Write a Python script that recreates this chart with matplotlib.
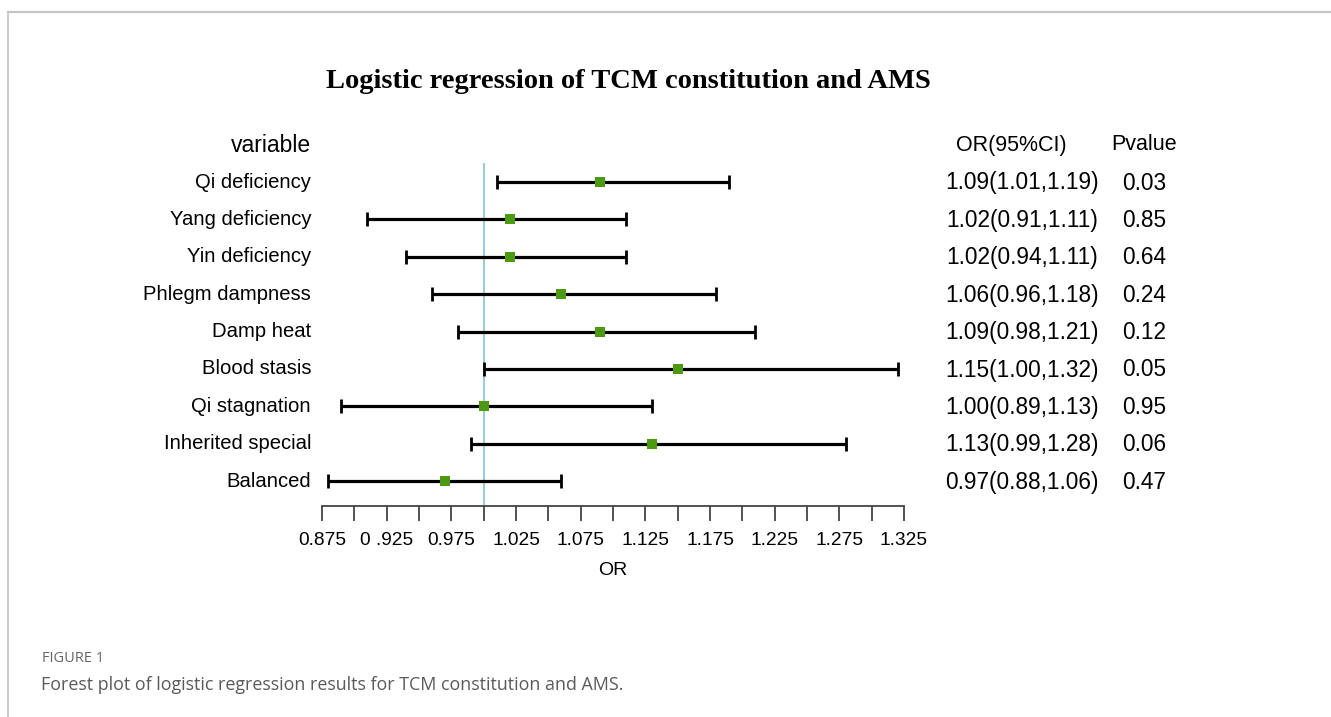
import matplotlib
matplotlib.use("Agg")
import matplotlib.pyplot as plt
from matplotlib.lines import Line2D

variables = ["Qi deficiency", "Yang deficiency", "Yin deficiency", "Phlegm dampness",
             "Damp heat", "Blood stasis", "Qi stagnation", "Inherited special", "Balanced"]
or_vals = [1.09, 1.02, 1.02, 1.06, 1.09, 1.15, 1.00, 1.13, 0.97]
ci_low = [1.01, 0.91, 0.94, 0.96, 0.98, 1.00, 0.89, 0.99, 0.88]
ci_high = [1.19, 1.11, 1.11, 1.18, 1.21, 1.32, 1.13, 1.28, 1.06]
or_text = ["1.09(1.01,1.19)", "1.02(0.91,1.11)", "1.02(0.94,1.11)", "1.06(0.96,1.18)",
           "1.09(0.98,1.21)", "1.15(1.00,1.32)", "1.00(0.89,1.13)", "1.13(0.99,1.28)",
           "0.97(0.88,1.06)"]
p_text = ["0.03", "0.85", "0.64", "0.24", "0.12", "0.05", "0.95", "0.06", "0.47"]
tick_vals = [0.875 + 0.025 * i for i in range(19)]
tick_labels = ["0.875", "", "0 .925", "", "0.975", "", "1.025", "", "1.075", "",
               "1.125", "", "1.175", "", "1.225", "", "1.275", "", "1.325"]

W, H = 1331, 717
fig = plt.figure(figsize=(W / 100, H / 100), dpi=100)

def fx(px):
    return px / W

def fy(py):
    return 1 - py / H

# frame lines (figure page border)
fig.add_artist(Line2D([fx(8), 1], [fy(12), fy(12)], color="#c4c4c4", lw=1.6))
fig.add_artist(Line2D([fx(8), fx(8)], [fy(12), 0], color="#c4c4c4", lw=1.2))

sans = ["Liberation Sans", "DejaVu Sans"]

# forest axes: x from 0.875 (px 322) to 1.325 (px 904)
x_left, x_right = 322, 904
y_top, y_bot = 163, 506
ax = fig.add_axes([fx(x_left), fy(y_bot), fx(x_right) - fx(x_left), fy(y_top) - fy(y_bot)])
row0, dy = 182, 37.4
ax.set_xlim(0.875, 1.325)
ax.set_ylim((y_bot - row0) / dy, (y_top - row0) / dy)
ax.patch.set_alpha(0)
for s in ["top", "left", "right"]:
    ax.spines[s].set_visible(False)
ax.spines["bottom"].set_color("#444444")
ax.spines["bottom"].set_linewidth(1.3)
ax.set_yticks([])
ax.set_xticks(tick_vals)
ax.set_xticklabels(tick_labels, fontfamily=sans, fontsize=13.8)
ax.tick_params(axis="x", direction="out", length=11, width=1.3, color="#444444", pad=8)

ax.axvline(1.0, color="#8ec8d6", lw=1.3, zorder=1)

ys = list(range(len(variables)))
ax.errorbar(or_vals, ys, xerr=[[o - l for o, l in zip(or_vals, ci_low)],
                               [h - o for o, h in zip(or_vals, ci_high)]],
            fmt="none", ecolor="black", elinewidth=2.3, capsize=5, capthick=2.0, zorder=2)
ax.scatter(or_vals, ys, marker="s", s=58, color="#4c9a12", zorder=3, linewidths=0)

ax.set_xlabel("OR", fontfamily=sans, fontsize=14, labelpad=9)

# row labels and columns
for i, (v, ot, pt) in enumerate(zip(variables, or_text, p_text)):
    py = row0 + dy * i
    fig.text(fx(311), fy(py), v, ha="right", va="center", fontfamily=sans, fontsize=14.6)
    fig.text(fx(1022), fy(py + 1), ot, ha="center", va="center", fontfamily=sans, fontsize=16.3)
    fig.text(fx(1144), fy(py + 1), pt, ha="center", va="center", fontfamily=sans, fontsize=16.3)

fig.text(fx(311), fy(145), "variable", ha="right", va="center", fontfamily=sans, fontsize=16.5)
fig.text(fx(1011), fy(145), "OR(95%CI)", ha="center", va="center", fontfamily=sans, fontsize=15.5)
fig.text(fx(1144), fy(145), "Pvalue", ha="center", va="center", fontfamily=sans, fontsize=15.5)

fig.text(fx(628), fy(81), "Logistic regression of TCM constitution and AMS", ha="center",
         va="center", fontfamily=["Liberation Serif", "DejaVu Serif"], fontweight="bold",
         fontsize=20.5)

fig.text(fx(42), fy(658), "FIGURE 1", ha="left", va="center", fontfamily=["Open Sans", "DejaVu Sans"],
         fontsize=10.5, color="#666666")
fig.text(fx(41), fy(685), "Forest plot of logistic regression results for TCM constitution and AMS.",
         ha="left", va="center", fontfamily=["Open Sans", "DejaVu Sans"], fontsize=12.9, color="#5a5a5a")

fig.savefig("out.png", dpi=100, facecolor="white")
